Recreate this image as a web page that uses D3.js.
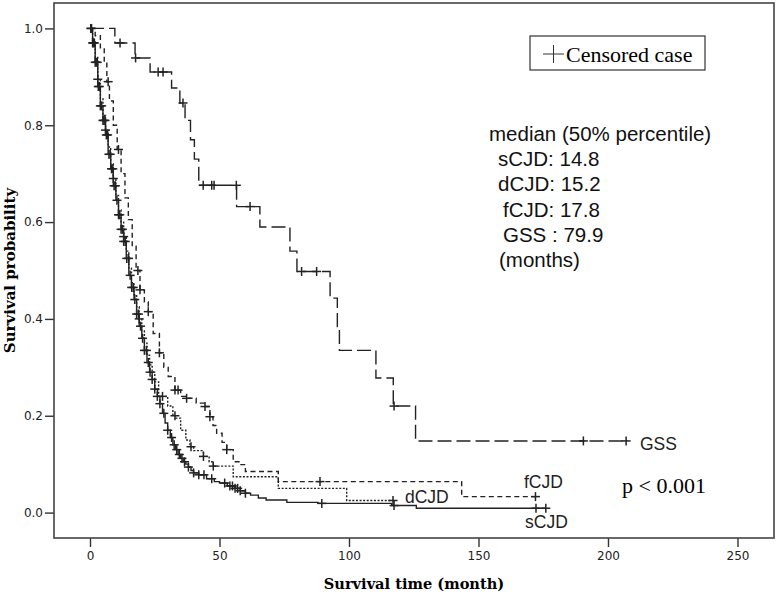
<!DOCTYPE html>
<html>
<head>
<meta charset="utf-8">
<script src="https://cdn.jsdelivr.net/npm/d3@7"></script>
<style>
  body { margin: 0; background: #fff; }
  svg { display: block; }
</style>
</head>
<body>
<div class="chart"></div>
<script>
// Kaplan-Meier curves, values
const sCJD_time = [0, 1, 2, 3, 4, 5, 6, 7, 8, 9, 10, 11, 12, 13, 14, 15, 16, 17, 18, 19, 20, 21, 22, 23, 24, 25, 26, 27, 28, 29, 30, 31, 32, 33, 34, 35, 36, 37, 38, 39, 40, 42, 45, 48, 50, 53, 56, 58, 60, 62, 65, 68, 76, 88, 116.5, 126]
const sCJD_surv = [1, 0.97, 0.93, 0.88, 0.84, 0.81, 0.78, 0.74, 0.71, 0.675, 0.645, 0.615, 0.585, 0.56, 0.525, 0.49, 0.465, 0.44, 0.41, 0.385, 0.36, 0.335, 0.31, 0.29, 0.275, 0.255, 0.24, 0.225, 0.205, 0.185, 0.17, 0.155, 0.14, 0.13, 0.12, 0.112, 0.105, 0.1, 0.094, 0.087, 0.082, 0.078, 0.07, 0.064, 0.061, 0.055, 0.05, 0.045, 0.04, 0.036, 0.03, 0.026, 0.021, 0.019, 0.0145, 0.009]
const sCJD_cens = [0.3, 0.6, 1, 1.3, 1.7, 2, 2.4, 2.8, 3.2, 3.6, 4, 4.5, 5, 5.4, 5.8, 6.3, 6.8, 7.3, 7.8, 8.3, 8.8, 9.3, 9.8, 10.4, 11, 11.5, 12, 12.5, 13, 13.6, 14.2, 14.9, 15.5, 16.1, 16.7, 17.3, 18, 18.7, 19.5, 20.3, 21, 21.8, 22.5, 23.2, 24, 25, 26, 27, 28.5, 30, 31.5, 32.5, 33.5, 34.5, 35.5, 36.5, 38, 40, 42, 44, 47, 52, 54, 55, 56, 57, 58, 60, 89.5, 117.4, 172.2, 176]

const dCJD_time = [0, 1, 2, 3, 4, 5, 6, 7, 8, 9, 10, 11, 12, 13, 14, 15, 16, 17, 18, 19, 20, 21, 22, 23, 24, 25, 26.5, 30, 32, 33, 35, 37, 38.6, 40, 43.8, 46, 47.6, 55.3, 72.7, 99.1]
const dCJD_surv = [1, 0.975, 0.94, 0.895, 0.855, 0.82, 0.79, 0.755, 0.72, 0.69, 0.655, 0.625, 0.6, 0.57, 0.54, 0.505, 0.475, 0.45, 0.425, 0.4, 0.375, 0.35, 0.325, 0.305, 0.29, 0.27, 0.24, 0.22, 0.2, 0.195, 0.17, 0.15, 0.136, 0.128, 0.116, 0.105, 0.096, 0.074, 0.05, 0.025]
const dCJD_cens = [3, 6, 9, 13, 19, 28, 32.8, 39, 43.8, 47.6, 117]

const fCJD_time = [0, 2, 4, 5.5, 6.5, 7.5, 9, 10.5, 12, 13.5, 14.8, 16.3, 17.8, 19.3, 21, 22.5, 24.4, 26.8, 28.5, 30.2, 32.8, 35, 37.3, 41, 44.4, 46.3, 47.5, 48.9, 51, 52.8, 55.3, 57.9, 60, 72.7, 143.5]
const fCJD_surv = [1, 0.985, 0.96, 0.93, 0.89, 0.85, 0.8, 0.75, 0.7, 0.65, 0.605, 0.55, 0.5, 0.46, 0.435, 0.415, 0.37, 0.33, 0.3, 0.281, 0.253, 0.24, 0.236, 0.226, 0.219, 0.198, 0.18, 0.164, 0.145, 0.13, 0.105, 0.099, 0.085, 0.064, 0.033]
const fCJD_cens = [7, 11, 18.5, 19.3, 22.5, 26.8, 32.8, 34, 37.3, 44.4, 46.3, 52.8, 88.8, 172]

const GSS_time = [0, 9.6, 17.4, 23.2, 31.5, 34.7, 36.7, 38.8, 40.3, 42, 56.6, 65.6, 77.2, 79.9, 92.7, 95.5, 96.3, 110.4, 117.1, 125.7]
const GSS_surv = [1, 0.97, 0.939, 0.91, 0.877, 0.846, 0.81, 0.77, 0.73, 0.676, 0.632, 0.59, 0.54, 0.498, 0.443, 0.384, 0.335, 0.278, 0.22, 0.148]
const GSS_cens = [11.6, 17.6, 26.3, 28.2, 35.9, 43.7, 47, 47.9, 56.5, 61.8, 81.7, 87.5, 117.4, 190.5, 207]

const xTicks = [0, 50, 100, 150, 200, 250]
const yTicks = [0, 0.2, 0.4, 0.6, 0.8, 1.0]
const medianLines = ['median (50% percentile)', 'sCJD: 14.8', 'dCJD: 15.2', 'fCJD: 17.8', 'GSS : 79.9', '(months)']

const curves = [
  { name: 'sCJD', time: sCJD_time, surv: sCJD_surv, cens: sCJD_cens, end: 176, dash: null },
  { name: 'dCJD', time: dCJD_time, surv: dCJD_surv, cens: dCJD_cens, end: 117, dash: '2,1.6' },
  { name: 'fCJD', time: fCJD_time, surv: fCJD_surv, cens: fCJD_cens, end: 172, dash: '5,3.5' },
  { name: 'GSS', time: GSS_time, surv: GSS_surv, cens: GSS_cens, end: 207, dash: '14,5' }
]

const frame = { left: 54, top: 3, right: 774, bottom: 538 }

const svg = d3.select('.chart')
  .append('svg')
    .attr('width', 777)
    .attr('height', 595)

const x = d3.scaleLinear().domain([-13.9, 264.1]).range([frame.left, frame.right])
const y = d3.scaleLinear().domain([-0.0525, 1.0525]).range([frame.bottom, frame.top])

// axes outside the frame
const xAxis = svg.append('g')
  .attr('transform', `translate(0, ${frame.bottom})`)
  .call(d3.axisBottom(x).tickValues(xTicks).tickSize(9).tickPadding(4).tickFormat(d3.format('d')))
const yAxis = svg.append('g')
  .attr('transform', `translate(${frame.left}, 0)`)
  .call(d3.axisLeft(y).tickValues(yTicks).tickSize(9).tickPadding(2).tickFormat(d3.format('.1f')))

;[xAxis, yAxis].forEach(a => {
  a.select('.domain').remove()
  a.selectAll('line').attr('stroke', '#333').attr('stroke-width', 1.4)
  a.selectAll('text')
    .attr('fill', '#222')
    .style('font-family', 'DejaVu Sans, sans-serif')
    .style('font-size', '12px')
})

svg.append('rect')
  .attr('x', frame.left)
  .attr('y', frame.top)
  .attr('width', frame.right - frame.left)
  .attr('height', frame.bottom - frame.top)
  .attr('fill', 'none')
  .attr('stroke', '#444')
  .attr('stroke-width', 1.6)

svg.append('text')
  .attr('x', (frame.left + frame.right) / 2)
  .attr('y', 589)
  .attr('text-anchor', 'middle')
  .style('font-family', 'DejaVu Serif, serif')
  .style('font-weight', 'bold')
  .style('font-size', '14.6px')
  .text('Survival time (month)')

svg.append('text')
  .attr('transform', `translate(15, ${(frame.top + frame.bottom) / 2}) rotate(-90)`)
  .attr('text-anchor', 'middle')
  .style('font-family', 'DejaVu Serif, serif')
  .style('font-weight', 'bold')
  .style('font-size', '15px')
  .text('Survival probability')

const plot = svg.append('g')

const line = d3.line()
  .x(d => x(d[0]))
  .y(d => y(d[1]))
  .curve(d3.curveStepAfter)

const survAt = (c, t) => c.surv[d3.bisectRight(c.time, t) - 1]

curves.forEach(c => {
  const pts = c.time.map((t, i) => [t, c.surv[i]])
  pts.push([c.end, c.surv[c.surv.length - 1]])

  plot.append('path')
    .datum(pts)
    .attr('d', line)
    .attr('fill', 'none')
    .attr('stroke', '#222')
    .attr('stroke-width', 1.4)
    .attr('stroke-dasharray', c.dash)

  const marks = plot.append('g').selectAll('g')
    .data(c.cens)
    .enter()
    .append('g')
      .attr('transform', t => `translate(${x(t)}, ${y(survAt(c, t))})`)
  marks.append('line')
    .attr('x1', -4.5).attr('x2', 4.5)
    .attr('stroke', '#222').attr('stroke-width', 1.5)
  marks.append('line')
    .attr('y1', -4.5).attr('y2', 4.5)
    .attr('stroke', '#222').attr('stroke-width', 1.5)
})

// curve labels
const labelFont = g => g.style('font-family', 'Liberation Sans, Arial, sans-serif').style('font-size', '17.5px').attr('fill', '#222')
svg.append('text').attr('x', 640).attr('y', 450).text('GSS').call(labelFont)
svg.append('text').attr('x', 524).attr('y', 488).text('fCJD').call(labelFont)
svg.append('text').attr('x', 405).attr('y', 502.5).text('dCJD').call(labelFont)
svg.append('text').attr('x', 525).attr('y', 528).text('sCJD').call(labelFont)

// legend box
const legend = svg.append('g')
legend.append('rect')
  .attr('x', 530).attr('y', 36)
  .attr('width', 175).attr('height', 34)
  .attr('fill', '#fff')
  .attr('stroke', '#333')
  .attr('stroke-width', 1.2)
legend.append('line').attr('x1', 543).attr('x2', 564).attr('y1', 54).attr('y2', 54).attr('stroke', '#333').attr('stroke-width', 1)
legend.append('line').attr('x1', 553.5).attr('x2', 553.5).attr('y1', 45).attr('y2', 63).attr('stroke', '#333').attr('stroke-width', 1)
legend.append('text')
  .attr('x', 566).attr('y', 61.5)
  .style('font-family', 'Liberation Serif, Times New Roman, serif')
  .style('font-size', '22px')
  .text('Censored case')

// median annotation
const medX = [489, 498, 498, 503, 503, 499]
svg.append('g').selectAll('text')
  .data(medianLines)
  .enter()
  .append('text')
    .attr('x', (d, i) => medX[i])
    .attr('y', (d, i) => 140.7 + i * 25.3)
    .style('font-family', 'Liberation Sans, Arial, sans-serif')
    .style('font-size', '20.5px')
    .attr('fill', '#111')
    .text(d => d)

svg.append('text')
  .attr('x', 622).attr('y', 493)
  .style('font-family', 'Liberation Serif, Times New Roman, serif')
  .style('font-size', '22px')
  .text('p < 0.001')
</script>
</body>
</html>
